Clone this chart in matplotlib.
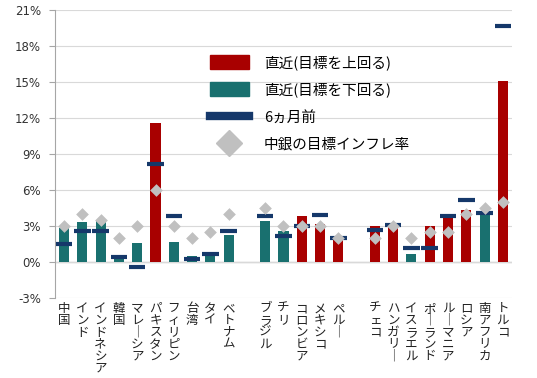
import numpy as np
import matplotlib
matplotlib.use("Agg")
import matplotlib.pyplot as plt
from matplotlib.patches import Patch
from matplotlib.lines import Line2D

plt.rcParams['font.family'] = ['Noto Sans CJK JP', 'DejaVu Sans']

# data (None = gap between regions)
countries = ["中国", "インド", "インドネシア", "韓国", "マレーシア", "パキスタン", "フィリピン", "台湾", "タイ", "ベトナム",
             None,
             "ブラジル", "チリ", "コロンビア", "メキシコ", "ペルー",
             None,
             "チェコ", "ハンガリー", "イスラエル", "ポーランド", "ルーマニア", "ロシア", "南アフリカ", "トルコ"]
latest = [2.8, 3.3, 3.5, 0.4, 1.55, 11.6, 1.67, 0.47, 0.64, 2.25,
          None,
          3.45, 2.6, 3.83, 3.17, 2.05,
          None,
          3.0, 3.17, 0.64, 3.0, 3.72, 4.33, 4.2, 15.08]
six_months = [1.5, 2.6, 2.6, 0.45, -0.45, 8.2, 3.8, 0.22, 0.64, 2.6,
              None,
              3.85, 2.2, 3.0, 3.95, 2.0,
              None,
              2.7, 3.1, 1.17, 1.17, 3.8, 5.2, 4.1, 19.7]
target = [3.0, 4.0, 3.5, 2.0, 3.0, 6.0, 3.0, 2.0, 2.5, 4.0,
          None,
          4.5, 3.0, 3.0, 3.0, 2.0,
          None,
          2.0, 3.0, 2.0, 2.5, 2.5, 4.0, 4.5, 5.0]

yticks = [-3, 0, 3, 6, 9, 12, 15, 18, 21]

red = "#A80000"
teal = "#19706F"
navy = "#15386A"
gray = "#C0C0C0"

fig = plt.figure(figsize=(5.37, 3.78), dpi=100)
ax = fig.add_axes([0.1024, 0.2116, 0.8510, 0.7619])

idx = [i for i, c in enumerate(countries) if c is not None]
x = np.array(idx)
lv = np.array([latest[i] for i in idx])
sv = np.array([six_months[i] for i in idx])
tv = np.array([target[i] for i in idx])

cols = [red if l > t else teal for l, t in zip(lv, tv)]
ax.bar(x, lv, width=0.55, color=cols, zorder=2)
ax.hlines(sv, x - 0.45, x + 0.45, colors=navy, lw=3, zorder=3)
ax.scatter(x, tv, marker="D", s=42, color=gray, zorder=4, linewidths=0)

ax.set_xlim(-0.5, len(countries) - 0.5)
ax.set_ylim(-3, 21)
ax.set_yticks(yticks)
ax.set_yticklabels([f"{v}%" for v in yticks], fontsize=8.5, family="DejaVu Sans", color="#333333")
ax.grid(axis="y", color="#D9D9D9", lw=0.8, zorder=0)
ax.axhline(0, color="#A6A6A6", lw=0.9, zorder=1)
for s in ["top", "right", "bottom"]:
    ax.spines[s].set_visible(False)
ax.spines["left"].set_color("#A6A6A6")
ax.tick_params(axis="y", length=4, color="#A6A6A6", pad=6)
ax.tick_params(axis="x", length=0)

ax.set_xticks(x)
labels = ["\n".join(c.replace("ー", "｜")) for c in countries if c is not None]
ax.set_xticklabels(labels, fontsize=9, linespacing=0.88, va="top", color="#222222")
ax.tick_params(axis="x", pad=3)

handles = [Patch(color=red), Patch(color=teal),
           Line2D([], [], color=navy, lw=6),
           Line2D([], [], marker="D", color=gray, ls="none", markersize=13)]
names = ["直近(目標を上回る)", "直近(目標を下回る)", "6ヵ月前", "中銀の目標インフレ率"]
ax.legend(handles, names, loc="upper left", bbox_to_anchor=(0.31, 0.89), frameon=False,
          fontsize=10.5, handlelength=2.7, handleheight=1.1, labelspacing=0.85, handletextpad=1.0)

fig.savefig("out.png", dpi=100)
